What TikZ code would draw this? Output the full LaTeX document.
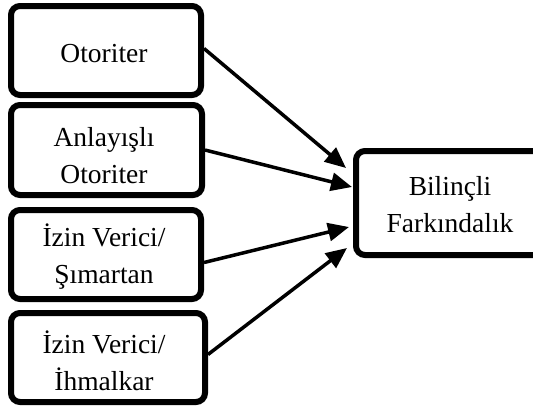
\documentclass[tikz,border=0pt]{standalone}
\usepackage{fontspec}
\setmainfont{Liberation Serif}
\usetikzlibrary{arrows.meta,calc}
\begin{document}
\begin{tikzpicture}[x=1pt,y=-1pt,
  box/.style={draw=black,line width=6pt,rounded corners=9pt,fill=white,minimum width=#1,inner sep=0pt},
  lbl/.style={anchor=base,inner sep=0pt,font=\fontsize{27.5}{37}\selectfont},
  arr/.style={line width=3.5pt,-{Triangle[length=21pt,width=18pt]}}]
\useasboundingbox (0,0) rectangle (533,407);
% boxes
\node[box=190pt,minimum height=89pt] (B1) at (106,50.5) {};
\node[box=191pt,minimum height=90pt] (B2) at (106.5,150) {};
\node[box=190pt,minimum height=89pt] (B3) at (106,254.5) {};
\node[box=194pt,minimum height=89pt] (B4) at (108,357.5) {};
\node[box=189pt,minimum height=104pt] (T) at (450.5,203) {};
% texts
\node[lbl] (t1) at (104,62) {Otoriter};
\node[lbl] (t2a) at (104,146) {Anlayışlı};
\node[lbl] (t2b) at (104,183) {Otoriter};
\node[lbl] (t3a) at (104,246) {İzin Verici/};
\node[lbl] (t3b) at (104,283) {Şımartan};
\node[lbl] (t4a) at (104,353) {İzin Verici/};
\node[lbl] (t4b) at (104,390) {İhmalkar};
\node[lbl] (tTa) at (450,195.5) {Bilinçli};
\node[lbl] (tTb) at (450,232.5) {Farkındalık};
% arrow tips
\coordinate (p1) at (346,168);
\coordinate (p2) at (352,187);
\coordinate (p3) at (349,227);
\coordinate (p4) at (347,248);
\draw[arr] ($(B1.east)+(0,-2)$) -- (p1);
\draw[arr] (B2.east) -- (p2);
\draw[arr] ($(B3.east)+(0,8)$) -- (p3);
\draw[arr] ($(B4.east)+(0,-3)$) -- (p4);
\end{tikzpicture}
\end{document}
